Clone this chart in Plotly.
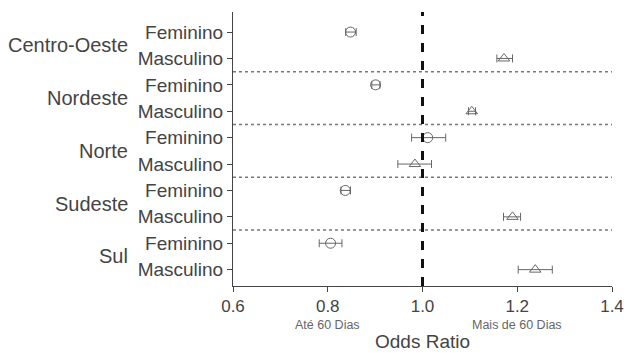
import plotly.graph_objects as go

regions = ["Centro-Oeste", "Nordeste", "Norte", "Sudeste", "Sul"]
sexes = ["Feminino", "Masculino"]
odds = [0.848, 1.172, 0.901, 1.104, 1.011, 0.984, 0.837, 1.190, 0.806, 1.238]
ci_low = [0.838, 1.157, 0.893, 1.097, 0.977, 0.948, 0.828, 1.171, 0.782, 1.202]
ci_high = [0.860, 1.190, 0.910, 1.112, 1.049, 1.019, 0.848, 1.207, 0.830, 1.274]
x_ticks = [0.6, 0.8, 1.0, 1.2, 1.4]
x_ticklabels = ["0.6", "0.8", "1.0", "1.2", "1.4"]

row_labels = [s for r in regions for s in sexes]
rows = list(range(len(row_labels)))
marker_color = "#666666"
text_color = "#444444"

fig = go.Figure()
for k, (sex, sym) in enumerate(zip(sexes, ["circle-open", "triangle-up-open"])):
    idx = [i for i in rows if i % 2 == k]
    fig.add_trace(go.Scatter(
        x=[odds[i] for i in idx],
        y=idx,
        mode="markers",
        marker=dict(symbol=sym, size=10, color=marker_color, line=dict(width=1, color=marker_color)),
        error_x=dict(type="data", symmetric=False,
                     array=[ci_high[i] - odds[i] for i in idx],
                     arrayminus=[odds[i] - ci_low[i] for i in idx],
                     color=marker_color, thickness=1, width=4),
        showlegend=False,
    ))

shapes = []
for g in range(1, len(regions)):
    shapes.append(dict(type="line", xref="paper", x0=0, x1=1, yref="y", y0=2 * g - 0.5, y1=2 * g - 0.5,
                       line=dict(color="#777777", width=1.5, dash="dot")))
shapes.append(dict(type="line", xref="x", x0=1.0, x1=1.0, yref="paper", y0=0, y1=1,
                   line=dict(color="#111111", width=3, dash="dash")))

annotations = []
for g, r in enumerate(regions):
    annotations.append(dict(text=r, xref="paper", x=-0.272, xanchor="right", yref="y", y=2 * g + 0.5,
                            showarrow=False, font=dict(size=20, color=text_color)))
annotations.append(dict(text="Até 60 Dias", xref="x", x=0.8, yref="paper", y=-0.142, yanchor="middle",
                        showarrow=False, font=dict(size=12.5, color="#666666")))
annotations.append(dict(text="Mais de 60 Dias", xref="x", x=1.2, yref="paper", y=-0.142, yanchor="middle",
                        showarrow=False, font=dict(size=12.5, color="#666666")))
annotations.append(dict(text="Odds Ratio", xref="x", x=1.0, yref="paper", y=-0.204, yanchor="middle",
                        showarrow=False, font=dict(size=19, color=text_color)))

fig.update_layout(
    width=624, height=353,
    margin=dict(l=233, r=12, t=12, b=67),
    paper_bgcolor="white", plot_bgcolor="white",
    font=dict(family="Liberation Sans, Arial, sans-serif", color=text_color),
    xaxis=dict(range=[0.6, 1.4], tickvals=x_ticks, ticktext=x_ticklabels, showgrid=False, zeroline=False,
               showline=True, linecolor="#444444", linewidth=1, ticks="outside", ticklen=5,
               tickcolor="#444444", tickfont=dict(size=17, color=text_color), automargin=False),
    yaxis=dict(range=[9.62, -0.76], tickvals=rows, ticktext=row_labels, showgrid=False, zeroline=False,
               showline=True, linecolor="#444444", linewidth=1, ticks="outside", ticklen=5,
               tickcolor="#444444", tickfont=dict(size=19, color=text_color), automargin=False),
    shapes=shapes,
    annotations=annotations,
)

fig.write_html("out.html",
               config={"displayModeBar": False},
               post_script="document.body.style.margin='0';document.body.style.overflow='hidden';")
